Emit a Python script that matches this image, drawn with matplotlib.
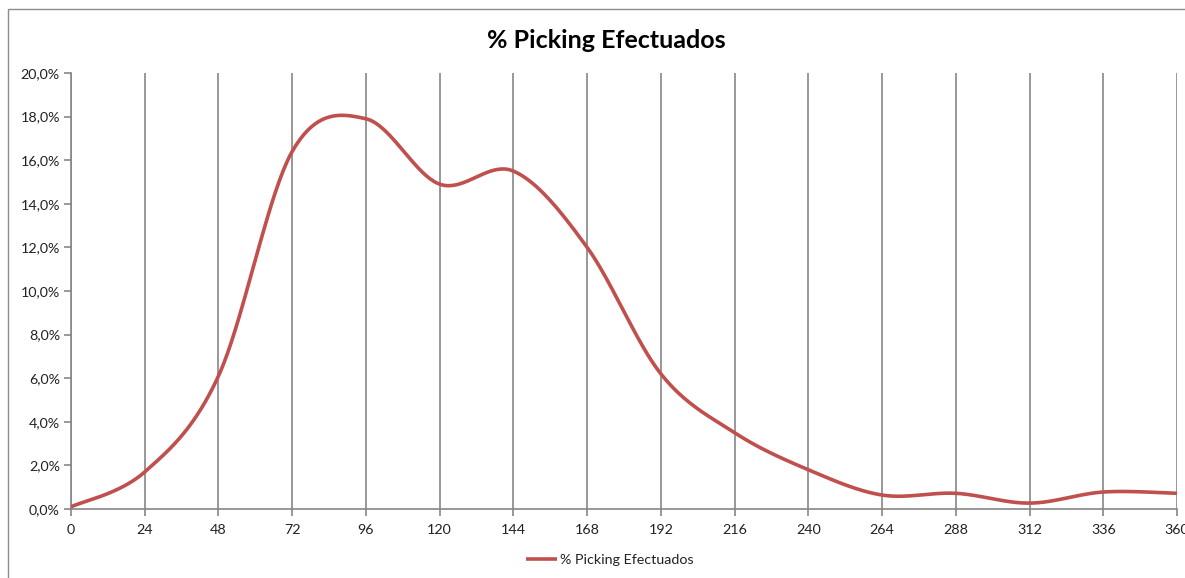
import numpy as np
import matplotlib.pyplot as plt
from matplotlib.patches import Rectangle
from matplotlib.ticker import FuncFormatter

plt.rcParams['font.family'] = ['Lato', 'DejaVu Sans']

# Hours and share of picking done at each point
horas = [0, 24, 48, 72, 96, 120, 144, 168, 192, 216, 240, 264, 288, 312, 336, 360]
picking = [0.1, 1.7, 6.1, 16.4, 17.9, 14.9, 15.5, 12.0, 6.2, 3.5, 1.8, 0.64, 0.72, 0.27, 0.78, 0.72]
serie = '% Picking Efectuados'
color_linea = '#C0504D'


# Smoothed line like a spreadsheet chart: cubic Bezier through every point
def suavizar(x, y, n=40):
    x = np.asarray(x, float)
    y = np.asarray(y, float) / 100.0
    px = np.concatenate([[x[0]], x, [x[-1]]])
    py = np.concatenate([[y[0]], y, [y[-1]]])
    xs, ys = [], []
    t = np.linspace(0, 1, n)
    for i in range(1, len(px) - 2):
        p0 = np.array([px[i], py[i]])
        p3 = np.array([px[i + 1], py[i + 1]])
        c1 = p0 + (np.array([px[i + 1], py[i + 1]]) - np.array([px[i - 1], py[i - 1]])) / 6
        c2 = p3 - (np.array([px[i + 2], py[i + 2]]) - np.array([px[i], py[i]])) / 6
        seg = ((1 - t) ** 3)[:, None] * p0 + (3 * (1 - t) ** 2 * t)[:, None] * c1 \
            + (3 * (1 - t) * t ** 2)[:, None] * c2 + (t ** 3)[:, None] * p3
        xs.extend(seg[:, 0])
        ys.extend(seg[:, 1])
    return np.array(xs), np.array(ys)


fig = plt.figure(figsize=(11.85, 5.78), dpi=100)
W, H = 1185, 578
ax = fig.add_axes([71 / W, 1 - 509 / H, (1177 - 71) / W, (509 - 73) / H])

# chart frame
fig.patches.append(Rectangle((8 / W, -0.01), 1.2, 1 - 9 / H + 0.01, transform=fig.transFigure,
                             fill=False, edgecolor='#8c8c8c', linewidth=1.0))

xs, ys = suavizar(horas, picking)
linea, = ax.plot(xs, ys, color=color_linea, linewidth=2.6, solid_capstyle='butt', zorder=3,
                 label=serie)

ax.set_xlim(0, 360)
ax.set_ylim(0, 0.20)
ax.set_xticks(horas)
ax.set_yticks(np.arange(0, 0.2001, 0.02))
ax.yaxis.set_major_formatter(FuncFormatter(lambda v, p: f'{v * 100:.1f}%'.replace('.', ',')))

ax.grid(axis='x', color='#868686', linewidth=1.2)
ax.set_axisbelow(True)
for s in ['top', 'right']:
    ax.spines[s].set_visible(False)
for s in ['left', 'bottom']:
    ax.spines[s].set_color('#868686')
    ax.spines[s].set_linewidth(1.2)
ax.tick_params(axis='both', colors='#868686', labelcolor='#222222', labelsize=10.3, length=5, width=1.2)
ax.tick_params(axis='x', pad=6)
ax.tick_params(axis='y', pad=3)

fig.text(606 / W, 1 - 40 / H, serie, ha='center', va='center', fontsize=18, fontweight='bold',
         color='#000000')

fig.legend(handles=[linea], loc='center', bbox_to_anchor=(610 / W, 1 - 560 / H), frameon=False,
           fontsize=10.3, handlelength=2.2, handletextpad=0.2, labelcolor='#222222')

fig.savefig('out.png', dpi=100, facecolor='white')
